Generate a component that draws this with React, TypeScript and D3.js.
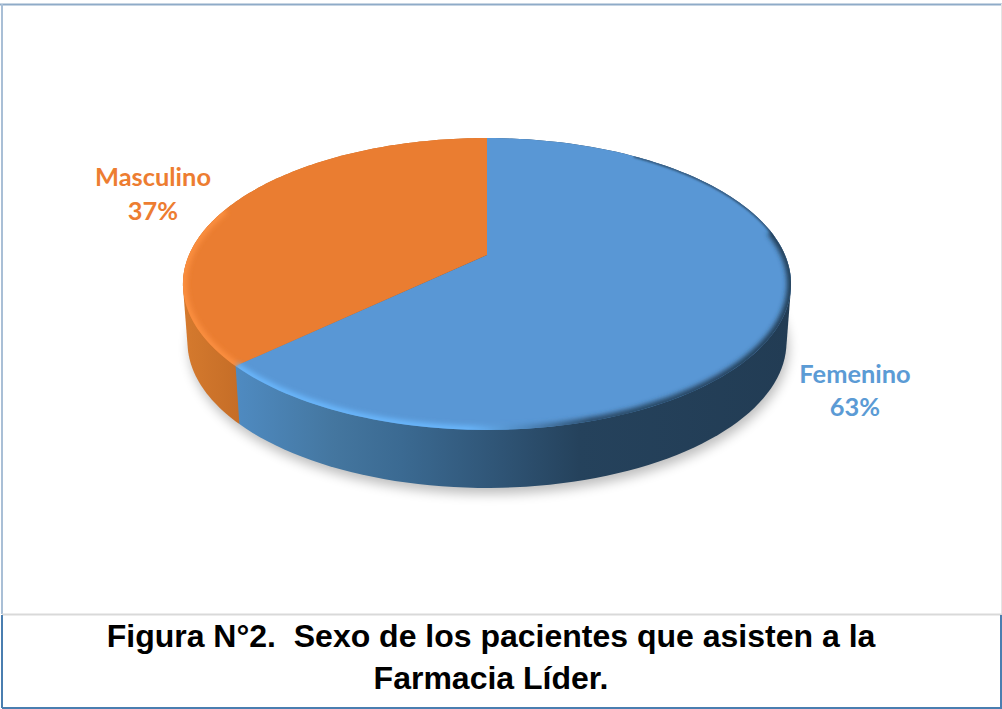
import React from "react";
import * as d3 from "d3";

const categories = ["Femenino", "Masculino"];
const shares = [63, 37];
const percentLabels = ["63%", "37%"];
const captionLines = ["Figura N°2.  Sexo de los pacientes que asisten a la", "Farmacia Líder."];
const topColors = ["#5997d5", "#ea7d31"];
const labelColors = ["#5b9bd5", "#ed7d31"];

const W = 1002, H = 709;
const cx = 487, apexY = 255, persp = -0.1986, xScale = 298, yScale = 140.2, depth = 58, baseShrink = 0.985;

const px = d3.scaleLinear().domain([-1, 1]).range([cx - xScale, cx + xScale]);
const py = d3.scaleLinear().domain([-1, 1]).range([apexY - yScale, apexY + yScale]);

type P = [number, number];
// clockwise angle from the top of the disc, in perspective
const project = (a: number, r = 1): P => {
  const u = r * Math.sin(a), v = -r * Math.cos(a);
  const w = 1 + persp * v;
  return [px(u / w), py(v / w)];
};
const lower = ([x, y]: P): P => [cx + (x - cx) * baseShrink, y + depth];
const sample = (a0: number, a1: number, n = 120): number[] =>
  d3.range(n + 1).map((i) => a0 + ((a1 - a0) * i) / n);
const line = d3.line<P>();

const arcs = d3.pie<number>().sort(null)(shares);
const topPath = (a0: number, a1: number) =>
  line([project(0, 0), ...sample(a0, a1).map((a) => project(a))])! + "Z";
// the swept wall is the hull of the rim and its lowered copy
const wallPath = (a0: number, a1: number) => {
  const s = sample(a0, a1).map((a) => project(a));
  return line(d3.polygonHull([...s, ...s.map(lower)]) as P[])! + "Z";
};
const rimPath = (a0: number, a1: number) => line(sample(a0, a1).map((a) => project(a)))!;

const deg = Math.PI / 180;
const [blue, orange] = arcs;
const disc = sample(0, 2 * Math.PI, 240).map((a) => project(a));
const discPath = line(disc)! + "Z";
const baseOutline = line(disc.map(lower))! + "Z";

export default function App() {
  return (
    <svg width={W} height={H} viewBox={`0 0 ${W} ${H}`}
      style={{ position: "absolute", left: 0, top: 0, display: "block" }}>
      <defs>
        <linearGradient id="blueWall" gradientUnits="userSpaceOnUse" x1={234} x2={791} y1={0} y2={0}>
          <stop offset="0" stopColor="#4f8bc2" />
          <stop offset="0.18" stopColor="#44769f" />
          <stop offset="0.3" stopColor="#3b6a92" />
          <stop offset="0.48" stopColor="#2f5475" />
          <stop offset="0.62" stopColor="#25425c" />
          <stop offset="1" stopColor="#223c54" />
        </linearGradient>
        <linearGradient id="orangeWall" gradientUnits="userSpaceOnUse" x1={183} x2={240} y1={0} y2={0}>
          <stop offset="0" stopColor="#d57a2e" />
          <stop offset="1" stopColor="#c56d27" />
        </linearGradient>
        <linearGradient id="blueRim" gradientUnits="userSpaceOnUse" x1={234} x2={791} y1={0} y2={0}>
          <stop offset="0" stopColor="#69b6fb" />
          <stop offset="0.42" stopColor="#69b6fb" />
          <stop offset="0.52" stopColor="#4f88be" />
          <stop offset="0.64" stopColor="#2a4a68" />
          <stop offset="1" stopColor="#223c54" />
        </linearGradient>
        <clipPath id="discClip"><path d={discPath} /></clipPath>
        <filter id="soft" x="-10%" y="-10%" width="120%" height="120%"><feGaussianBlur stdDeviation="2.6" /></filter>
        <filter id="thin" x="-10%" y="-10%" width="120%" height="120%"><feGaussianBlur stdDeviation="0.8" /></filter>
        <filter id="shadow" x="-10%" y="-20%" width="120%" height="140%"><feGaussianBlur stdDeviation="6" /></filter>
      </defs>

      <rect x={0} y={0} width={W} height={H} fill="#ffffff" />

      {/* frame */}
      <line x1={0} x2={W} y1={4.5} y2={4.5} stroke="#8fabc8" strokeWidth={2} />
      <line x1={2} x2={2} y1={4} y2={614} stroke="#a9bfd6" strokeWidth={2} />
      <line x1={1001.5} x2={1001.5} y1={4} y2={614} stroke="#e4e4e4" strokeWidth={1} />
      <line x1={2} x2={W} y1={614.5} y2={614.5} stroke="#d9d9d9" strokeWidth={2} />
      <line x1={2} x2={2} y1={615} y2={708} stroke="#4a7eb0" strokeWidth={2} />
      <line x1={1001} x2={1001} y1={615} y2={708} stroke="#4a7eb0" strokeWidth={2} />
      <line x1={2} x2={W} y1={708} y2={708} stroke="#4a7eb0" strokeWidth={2} />

      {/* shadow under the disc */}
      <path d={baseOutline} fill="#000000" opacity={0.26} filter="url(#shadow)" transform="translate(2,6)" />

      {/* side wall: orange first, the blue seam overlaps it */}
      <path d={wallPath(orange.startAngle, orange.endAngle)} fill="url(#orangeWall)" />
      <path d={wallPath(blue.startAngle, blue.endAngle)} fill="url(#blueWall)" />

      {/* top face */}
      {arcs.map((a, i) => (
        <path key={categories[i]} d={topPath(a.startAngle, a.endAngle)} fill={topColors[i]} />
      ))}

      {/* bevelled rim */}
      <g clipPath="url(#discClip)">
        <path d={rimPath(35 * deg, 82 * deg)} fill="none" stroke="#2a4a68" strokeWidth={2.5} filter="url(#thin)" />
        <path d={rimPath(80 * deg, blue.endAngle)} fill="none" stroke="url(#blueRim)" strokeWidth={8} filter="url(#soft)" />
        <path d={rimPath(orange.startAngle, 290 * deg)} fill="none" stroke="#fb8f41" strokeWidth={8} filter="url(#soft)" />
      </g>

      {/* labels */}
      <g fontFamily="Lato, sans-serif" fontWeight={700} fontSize={25.4} textAnchor="middle">
        <text x={855} y={383} fill={labelColors[0]}>{categories[0]}</text>
        <text x={855} y={416} fill={labelColors[0]}>{percentLabels[0]}</text>
        <text x={153} y={186} fill={labelColors[1]}>{categories[1]}</text>
        <text x={153} y={220} fill={labelColors[1]}>{percentLabels[1]}</text>
      </g>

      {/* caption */}
      <g fontFamily="'Liberation Sans', Arial, sans-serif" fontWeight={700} fontSize={32} textAnchor="middle" fill="#000000">
        <text x={491} y={647} style={{ whiteSpace: "pre" }}>{captionLines[0]}</text>
        <text x={491} y={689}>{captionLines[1]}</text>
      </g>
    </svg>
  );
}
